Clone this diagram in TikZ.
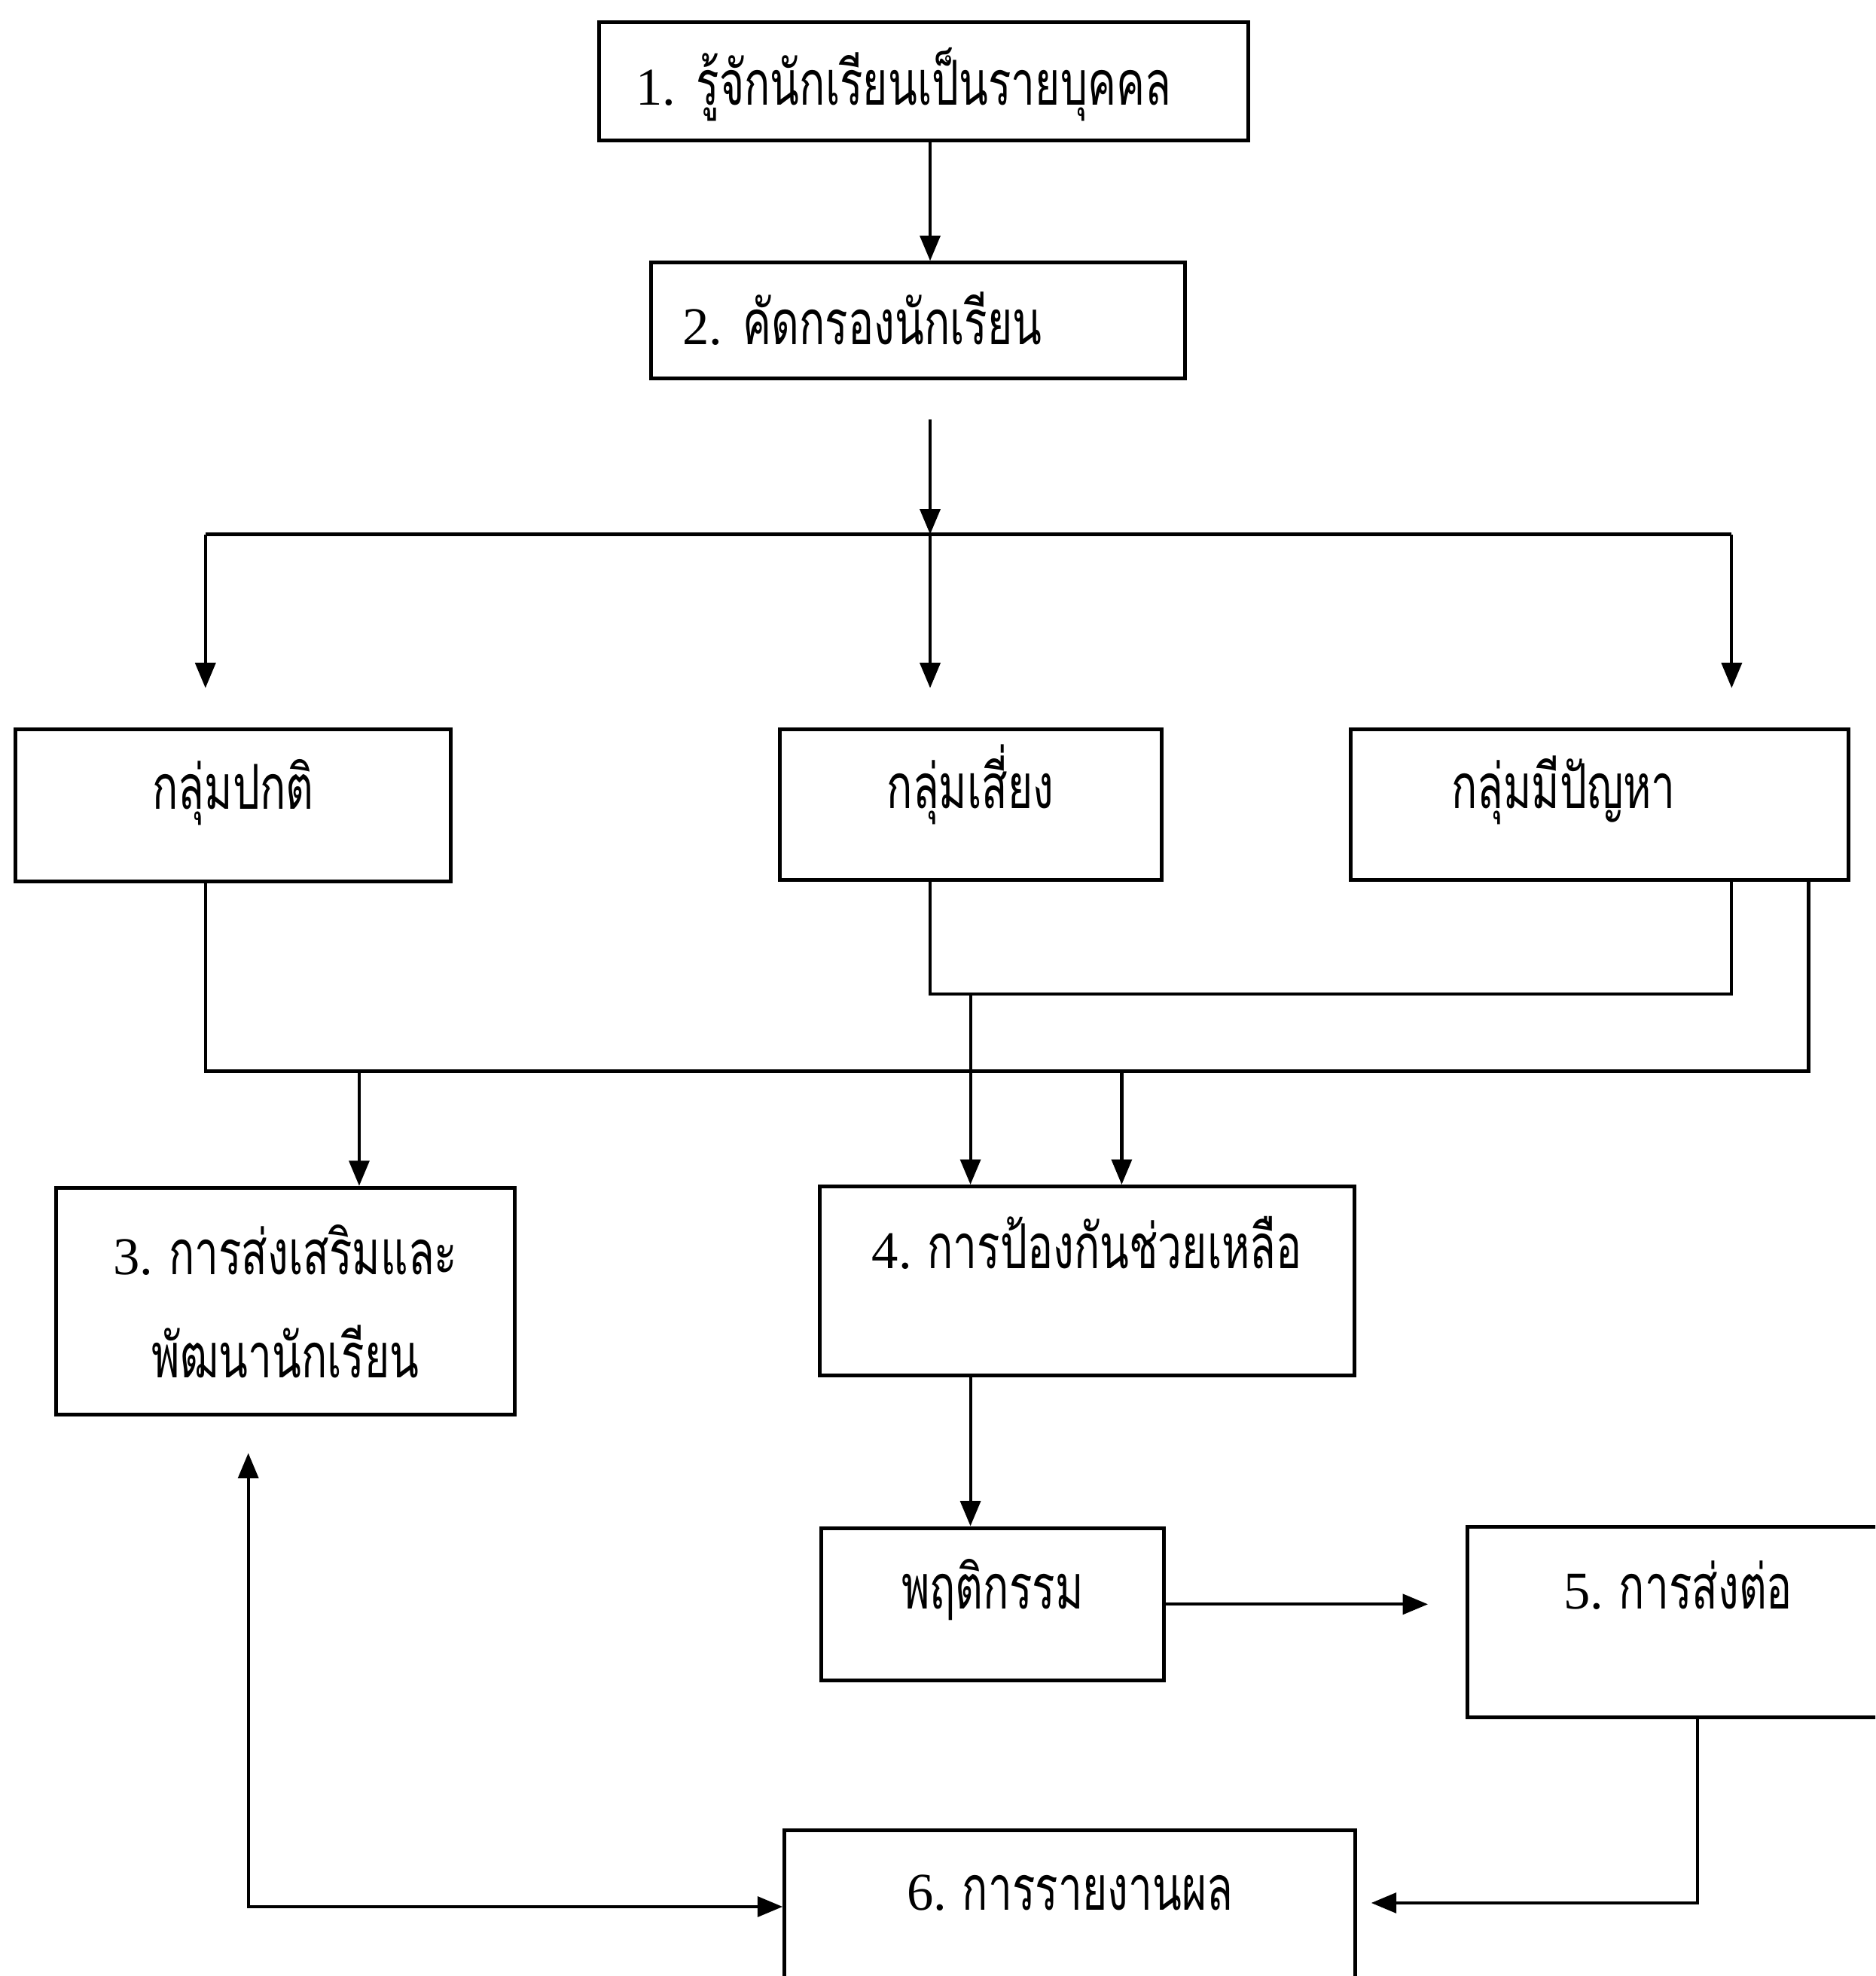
\documentclass[tikz,border=0pt]{standalone}
\usepackage{fontspec}
\setmainfont{Liberation Serif}
\newfontfamily\thaifont[Script=Thai,FakeStretch=0.69]{Loma}
\newcommand{\stepno}[1]{{\fontsize{12}{14}\selectfont #1}}
\usetikzlibrary{arrows.meta}

\begin{document}
\begin{tikzpicture}[x=1cm,y=-1cm,>={Triangle[length=2mm,width=1.6mm]},
  box/.style={draw,line width=0.3mm,inner sep=0pt,anchor=north west,font=\fontsize{14}{17}\selectfont},
  ln/.style={line width=0.25mm}]
  \useasboundingbox (0,0) rectangle (14.88,15.68);
  \clip (0,0) rectangle (14.88,15.68);

  \node[box,minimum width=5.15cm,minimum height=0.94cm,text width=4.57cm,inner xsep=0.29cm,align=left,text height=0.38cm,text depth=0pt] (know) at (4.74,0.16) {\stepno{1.}~{\thaifont รู้จักนักเรียนเป็นรายบุคคล}};
  \node[box,minimum width=4.24cm,minimum height=0.92cm,text width=3.74cm,inner xsep=0.25cm,align=left,text height=0.38cm,text depth=0pt] (screen) at (5.15,2.07) {\stepno{2.}~{\thaifont คัดกรองนักเรียน}};

  \node[box,minimum width=3.45cm,minimum height=1.21cm,text height=0.06cm,text depth=0pt] (normal) at (0.11,5.77) {\thaifont กลุ่มปกติ};
  \node[box,minimum width=3.03cm,minimum height=1.20cm,text height=0.06cm,text depth=0pt] (risk) at (6.17,5.77) {\thaifont กลุ่มเสี่ยง};
  \node[box,minimum width=3.95cm,minimum height=1.20cm,text width=2.35cm,inner xsep=0.80cm,align=left,text height=0.06cm,text depth=0pt] (problem) at (10.70,5.77) {\thaifont กลุ่มมีปัญหา};

  \node[box,minimum width=3.64cm,minimum height=1.80cm,align=center] (promote) at (0.43,9.41) {\stepno{3.}~{\thaifont การส่งเสริมและ}\\[0.22cm]{\thaifont พัฒนานักเรียน}};
  \node[box,minimum width=4.24cm,minimum height=1.50cm,text height=0pt,text depth=0.2cm] (help) at (6.49,9.40) {\stepno{4.}~{\thaifont การป้องกันช่วยเหลือ}};

  \node[box,minimum width=2.72cm,minimum height=1.21cm,text height=0.07cm,text depth=0pt] (behav) at (6.50,12.11) {\thaifont พฤติกรรม};
  \node[box,minimum width=3.34cm,minimum height=1.51cm,text height=0pt,text depth=0.21cm] (refer) at (11.63,12.10) {\stepno{5.}~{\thaifont การส่งต่อ}};
  \node[box,minimum width=4.53cm,minimum height=1.28cm,text height=0pt,text depth=0.02cm] (report) at (6.21,14.51) {\stepno{6.}~{\thaifont การรายงานผล}};

  % screening fork
  \coordinate (fork) at (7.38,4.24);
  \coordinate (forkL) at (1.63,4.24);
  \coordinate (forkR) at (13.74,4.24);
  \draw[ln,->] (know.south -| fork) -- (screen.north -| fork);
  \draw[ln,->,shorten <=3.1mm] (screen.south -| fork) -- (fork);
  \draw[ln] (forkL) -- (forkR);
  \draw[ln,->,shorten >=3.1mm] (forkL) -- (forkL |- normal.north);
  \draw[ln,->,shorten >=3.1mm] (fork) -- (fork |- risk.north);
  \draw[ln,->,shorten >=3.1mm] (forkR) -- (forkR |- problem.north);

  % risk + problem -> help
  \coordinate (join) at (7.38,7.89);
  \coordinate (joinR) at (13.74,7.89);
  \coordinate (down4) at (7.70,7.89);
  \draw[ln] (risk.south -| join) -- (join) -- (joinR) -- (problem.south -| joinR);
  \draw[ln,->] (down4) -- (down4 |- help.north);

  % all groups -> promote, help
  \coordinate (busL) at (1.63,8.50);
  \coordinate (busR) at (14.35,8.50);
  \coordinate (bus3) at (2.85,8.50);
  \coordinate (bus4) at (8.90,8.50);
  \draw[ln] (normal.south -| busL) -- (busL) -- (busR) -- (problem.south -| busR);
  \draw[ln,->] (bus3) -- (bus3 |- promote.north);
  \draw[ln,->] (bus4) -- (bus4 |- help.north);

  \draw[ln,->] (help.south -| down4) -- (behav.north -| down4);
  \draw[ln,->,shorten >=3mm] (behav.east) -- (behav.east -| refer.west);

  \coordinate (ret) at (13.47,15.10);
  \coordinate (back) at (1.97,15.13);
  \draw[ln,->,shorten >=1.1mm] (refer.south -| ret) -- (ret) -- (ret -| report.east);
  \draw[ln,<->,shorten <=2.9mm] (promote.south -| back) -- (back) -- (back -| report.west);
\end{tikzpicture}
\end{document}
